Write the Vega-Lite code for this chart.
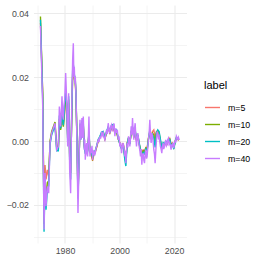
{
"$schema": "https://vega.github.io/schema/vega-lite/v6.json",
"width": 153, "height": 238,
"autosize": "none",
"padding": {"left": 33.5, "top": 5, "right": 76.5, "bottom": 20},
"background": "white",
"config": {"view": {"stroke": null}, "font": "Liberation Sans"},
"datasets": {
"w": [
{"year":1971.0,"m=5":0.0370,"m=10":0.0390,"m=20":0.0380},
{"year":1971.83,"m=5":0.0150,"m=10":0.0145,"m=20":0.0130},
{"year":1972.32,"m=5":-0.0240,"m=10":-0.0260,"m=20":-0.0284},
{"year":1972.68,"m=5":-0.0075,"m=10":-0.0110,"m=20":-0.0120},
{"year":1973.05,"m=5":-0.0120,"m=10":-0.0180,"m=20":-0.0215},
{"year":1973.54,"m=5":-0.0090,"m=10":-0.0130,"m=20":-0.0150},
{"year":1974.02,"m=5":-0.0110,"m=10":-0.0125,"m=20":-0.0140},
{"year":1974.51,"m=5":-0.0005,"m=10":0.0000,"m=20":-0.0010},
{"year":1975.12,"m=5":0.0025,"m=10":0.0030,"m=20":0.0020},
{"year":1975.73,"m=5":0.0040,"m=10":0.0045,"m=20":0.0035},
{"year":1976.34,"m=5":0.0050,"m=10":0.0060,"m=20":0.0045},
{"year":1976.95,"m=5":-0.0015,"m=10":-0.0020,"m=20":-0.0030},
{"year":1977.56,"m=5":-0.0020,"m=10":-0.0025,"m=20":-0.0030},
{"year":1977.93,"m=5":0.0060,"m=10":0.0070,"m=20":0.0080},
{"year":1978.41,"m=5":0.0040,"m=10":0.0035,"m=20":0.0040},
{"year":1978.90,"m=5":0.0075,"m=10":0.0080,"m=20":0.0090},
{"year":1979.39,"m=5":0.0050,"m=10":0.0045,"m=20":0.0050},
{"year":1979.88,"m=5":0.0090,"m=10":0.0100,"m=20":0.0110},
{"year":1980.24,"m=5":0.0130,"m=10":0.0140,"m=20":0.0150},
{"year":1980.61,"m=5":0.0110,"m=10":0.0115,"m=20":0.0120},
{"year":1980.98,"m=5":0.0020,"m=10":0.0010,"m=20":0.0000},
{"year":1981.34,"m=5":0.0120,"m=10":0.0130,"m=20":0.0140},
{"year":1981.71,"m=5":-0.0040,"m=10":-0.0050,"m=20":-0.0060},
{"year":1982.07,"m=5":-0.0090,"m=10":-0.0100,"m=20":-0.0120},
{"year":1982.44,"m=5":0.0060,"m=10":0.0065,"m=20":0.0070},
{"year":1982.80,"m=5":0.0200,"m=10":0.0210,"m=20":0.0220},
{"year":1983.05,"m=5":0.0220,"m=10":0.0230,"m=20":0.0240},
{"year":1983.41,"m=5":0.0195,"m=10":0.0205,"m=20":0.0210},
{"year":1983.78,"m=5":0.0180,"m=10":0.0185,"m=20":0.0190},
{"year":1984.02,"m=5":0.0140,"m=10":0.0145,"m=20":0.0150},
{"year":1984.39,"m=5":0.0010,"m=10":0.0005,"m=20":0.0000},
{"year":1984.76,"m=5":-0.0160,"m=10":-0.0170,"m=20":-0.0180},
{"year":1985.12,"m=5":-0.0060,"m=10":-0.0065,"m=20":-0.0070},
{"year":1985.49,"m=5":0.0045,"m=10":0.0050,"m=20":0.0055},
{"year":1985.85,"m=5":0.0010,"m=10":0.0008,"m=20":0.0005},
{"year":1986.22,"m=5":0.0050,"m=10":0.0055,"m=20":0.0060},
{"year":1986.71,"m=5":0.0045,"m=10":0.0050,"m=20":0.0055},
{"year":1987.07,"m=5":-0.0010,"m=10":-0.0015,"m=20":-0.0020},
{"year":1987.44,"m=5":-0.0030,"m=10":-0.0035,"m=20":-0.0040},
{"year":1987.93,"m=5":-0.0015,"m=10":-0.0012,"m=20":-0.0010},
{"year":1988.29,"m=5":-0.0030,"m=10":-0.0030,"m=20":-0.0035},
{"year":1988.78,"m=5":0.0020,"m=10":0.0025,"m=20":0.0030},
{"year":1989.15,"m=5":-0.0035,"m=10":-0.0032,"m=20":-0.0030},
{"year":1989.63,"m=5":-0.0045,"m=10":-0.0040,"m=20":-0.0035},
{"year":1990.12,"m=5":-0.0062,"m=10":-0.0055,"m=20":-0.0050},
{"year":1990.61,"m=5":-0.0042,"m=10":-0.0038,"m=20":-0.0035},
{"year":1991.10,"m=5":-0.0035,"m=10":-0.0032,"m=20":-0.0030},
{"year":1991.59,"m=5":-0.0020,"m=10":-0.0018,"m=20":-0.0015},
{"year":1992.20,"m=5":0.0000,"m=10":0.0003,"m=20":0.0005},
{"year":1992.80,"m=5":0.0010,"m=10":0.0012,"m=20":0.0015},
{"year":1993.41,"m=5":0.0022,"m=10":0.0025,"m=20":0.0028},
{"year":1994.02,"m=5":0.0025,"m=10":0.0028,"m=20":0.0030},
{"year":1994.63,"m=5":0.0006,"m=10":0.0008,"m=20":0.0010},
{"year":1995.24,"m=5":0.0025,"m=10":0.0028,"m=20":0.0030},
{"year":1995.85,"m=5":0.0040,"m=10":0.0042,"m=20":0.0045},
{"year":1996.46,"m=5":0.0025,"m=10":0.0028,"m=20":0.0030},
{"year":1997.07,"m=5":0.0040,"m=10":0.0045,"m=20":0.0050},
{"year":1997.68,"m=5":0.0042,"m=10":0.0048,"m=20":0.0052},
{"year":1998.29,"m=5":0.0025,"m=10":0.0028,"m=20":0.0030},
{"year":1998.90,"m=5":0.0028,"m=10":0.0030,"m=20":0.0035},
{"year":1999.51,"m=5":0.0006,"m=10":0.0008,"m=20":0.0010},
{"year":2000.12,"m=5":-0.0005,"m=10":-0.0008,"m=20":-0.0010},
{"year":2000.73,"m=5":-0.0020,"m=10":-0.0022,"m=20":-0.0025},
{"year":2001.34,"m=5":-0.0006,"m=10":-0.0008,"m=20":-0.0010},
{"year":2001.95,"m=5":-0.0045,"m=10":-0.0050,"m=20":-0.0060},
{"year":2002.32,"m=5":-0.0055,"m=10":-0.0060,"m=20":-0.0078},
{"year":2002.80,"m=5":-0.0005,"m=10":-0.0008,"m=20":-0.0010},
{"year":2003.29,"m=5":0.0008,"m=10":0.0010,"m=20":0.0012},
{"year":2003.78,"m=5":-0.0005,"m=10":-0.0008,"m=20":-0.0010},
{"year":2004.27,"m=5":0.0025,"m=10":0.0028,"m=20":0.0030},
{"year":2004.76,"m=5":0.0040,"m=10":0.0042,"m=20":0.0045},
{"year":2005.24,"m=5":0.0010,"m=10":0.0012,"m=20":0.0015},
{"year":2005.73,"m=5":0.0030,"m=10":0.0032,"m=20":0.0035},
{"year":2006.22,"m=5":0.0000,"m=10":0.0003,"m=20":0.0005},
{"year":2006.71,"m=5":0.0015,"m=10":0.0018,"m=20":0.0020},
{"year":2007.20,"m=5":-0.0010,"m=10":-0.0008,"m=20":-0.0005},
{"year":2007.68,"m=5":-0.0025,"m=10":-0.0028,"m=20":-0.0030},
{"year":2008.17,"m=5":-0.0035,"m=10":-0.0040,"m=20":-0.0045},
{"year":2008.66,"m=5":-0.0028,"m=10":-0.0030,"m=20":-0.0035},
{"year":2009.15,"m=5":-0.0032,"m=10":-0.0035,"m=20":-0.0040},
{"year":2009.63,"m=5":-0.0020,"m=10":-0.0022,"m=20":-0.0025},
{"year":2010.12,"m=5":-0.0022,"m=10":-0.0025,"m=20":-0.0030},
{"year":2010.61,"m=5":0.0010,"m=10":0.0008,"m=20":0.0005},
{"year":2011.10,"m=5":0.0028,"m=10":0.0030,"m=20":0.0035},
{"year":2011.59,"m=5":0.0015,"m=10":0.0010,"m=20":0.0005},
{"year":2012.07,"m=5":0.0030,"m=10":0.0025,"m=20":0.0020},
{"year":2012.56,"m=5":0.0035,"m=10":0.0020,"m=20":0.0010},
{"year":2013.05,"m=5":0.0010,"m=10":-0.0005,"m=20":-0.0020},
{"year":2013.54,"m=5":0.0030,"m=10":0.0028,"m=20":0.0025},
{"year":2014.02,"m=5":0.0028,"m=10":0.0032,"m=20":0.0035},
{"year":2014.51,"m=5":0.0020,"m=10":0.0025,"m=20":0.0030},
{"year":2015.00,"m=5":-0.0005,"m=10":0.0000,"m=20":0.0005},
{"year":2015.49,"m=5":-0.0025,"m=10":-0.0022,"m=20":-0.0020},
{"year":2015.98,"m=5":-0.0010,"m=10":-0.0008,"m=20":-0.0005},
{"year":2016.46,"m=5":-0.0015,"m=10":-0.0012,"m=20":-0.0010},
{"year":2016.95,"m=5":-0.0005,"m=10":-0.0002,"m=20":0.0000},
{"year":2017.44,"m=5":-0.0010,"m=10":-0.0008,"m=20":-0.0005},
{"year":2017.93,"m=5":0.0000,"m=10":0.0003,"m=20":0.0005},
{"year":2018.41,"m=5":0.0008,"m=10":0.0006,"m=20":0.0005},
{"year":2018.90,"m=5":-0.0010,"m=10":-0.0012,"m=20":-0.0015},
{"year":2019.39,"m=5":-0.0006,"m=10":-0.0008,"m=20":-0.0010},
{"year":2019.88,"m=5":-0.0018,"m=10":-0.0020,"m=20":-0.0025},
{"year":2020.37,"m=5":0.0000,"m=10":-0.0003,"m=20":-0.0005},
{"year":2020.85,"m=5":0.0008,"m=10":0.0010,"m=20":0.0012},
{"year":2021.34,"m=5":0.0005,"m=10":0.0006,"m=20":0.0008},
{"year":2021.83,"m=5":0.0003,"m=10":0.0004,"m=20":0.0005}
],
"p": [
{"year":1971.0,"label":"m=40","value":0.0360},
{"year":1971.83,"label":"m=40","value":0.0108},
{"year":1972.32,"label":"m=40","value":-0.0277},
{"year":1972.68,"label":"m=40","value":-0.0100},
{"year":1973.05,"label":"m=40","value":-0.0204},
{"year":1973.54,"label":"m=40","value":-0.0142},
{"year":1974.02,"label":"m=40","value":-0.0163},
{"year":1974.51,"label":"m=40","value":-0.0006},
{"year":1975.12,"label":"m=40","value":0.0025},
{"year":1975.73,"label":"m=40","value":0.0041},
{"year":1976.34,"label":"m=40","value":0.0056},
{"year":1976.95,"label":"m=40","value":-0.0027},
{"year":1977.56,"label":"m=40","value":-0.0017},
{"year":1977.93,"label":"m=40","value":0.0108},
{"year":1978.41,"label":"m=40","value":0.0046},
{"year":1978.90,"label":"m=40","value":0.0140},
{"year":1979.15,"label":"m=40","value":0.0080},
{"year":1979.39,"label":"m=40","value":0.0067},
{"year":1979.6,"label":"m=40","value":0.0110},
{"year":1979.88,"label":"m=40","value":0.0129},
{"year":1980.24,"label":"m=40","value":0.0213},
{"year":1980.61,"label":"m=40","value":0.0129},
{"year":1980.98,"label":"m=40","value":-0.0017},
{"year":1981.34,"label":"m=40","value":0.0150},
{"year":1981.71,"label":"m=40","value":-0.0090},
{"year":1982.07,"label":"m=40","value":-0.0163},
{"year":1982.44,"label":"m=40","value":0.0088},
{"year":1982.80,"label":"m=40","value":0.0254},
{"year":1983.05,"label":"m=40","value":0.0306},
{"year":1983.25,"label":"m=40","value":0.0200},
{"year":1983.41,"label":"m=40","value":0.0233},
{"year":1983.6,"label":"m=40","value":0.0180},
{"year":1983.78,"label":"m=40","value":0.0202},
{"year":1984.02,"label":"m=40","value":0.0150},
{"year":1984.39,"label":"m=40","value":-0.0006},
{"year":1984.76,"label":"m=40","value":-0.0225},
{"year":1985.12,"label":"m=40","value":-0.0079},
{"year":1985.49,"label":"m=40","value":0.0067},
{"year":1985.85,"label":"m=40","value":0.0004},
{"year":1986.22,"label":"m=40","value":0.0072},
{"year":1986.45,"label":"m=40","value":0.0010},
{"year":1986.71,"label":"m=40","value":0.0077},
{"year":1987.07,"label":"m=40","value":-0.0027},
{"year":1987.25,"label":"m=40","value":0.0005},
{"year":1987.44,"label":"m=40","value":-0.0058},
{"year":1987.7,"label":"m=40","value":-0.0020},
{"year":1987.93,"label":"m=40","value":-0.0006},
{"year":1988.1,"label":"m=40","value":-0.0040},
{"year":1988.29,"label":"m=40","value":-0.0048},
{"year":1988.55,"label":"m=40","value":0.0010},
{"year":1988.78,"label":"m=40","value":0.0077},
{"year":1989.0,"label":"m=40","value":-0.0010},
{"year":1989.15,"label":"m=40","value":-0.0048},
{"year":1989.4,"label":"m=40","value":-0.0020},
{"year":1989.63,"label":"m=40","value":-0.0038},
{"year":1989.9,"label":"m=40","value":-0.0015},
{"year":1990.12,"label":"m=40","value":-0.0058},
{"year":1990.35,"label":"m=40","value":-0.0030},
{"year":1990.61,"label":"m=40","value":-0.0032},
{"year":1990.85,"label":"m=40","value":-0.0045},
{"year":1991.10,"label":"m=40","value":-0.0038},
{"year":1991.35,"label":"m=40","value":-0.0022},
{"year":1991.59,"label":"m=40","value":-0.0017},
{"year":1991.9,"label":"m=40","value":-0.0005},
{"year":1992.20,"label":"m=40","value":0.0004},
{"year":1992.5,"label":"m=40","value":-0.0003},
{"year":1992.80,"label":"m=40","value":0.0015},
{"year":1993.1,"label":"m=40","value":0.0008},
{"year":1993.41,"label":"m=40","value":0.0030},
{"year":1993.7,"label":"m=40","value":0.0018},
{"year":1994.02,"label":"m=40","value":0.0025},
{"year":1994.3,"label":"m=40","value":0.0012},
{"year":1994.63,"label":"m=40","value":0.0004},
{"year":1994.95,"label":"m=40","value":0.0020},
{"year":1995.24,"label":"m=40","value":0.0035},
{"year":1995.55,"label":"m=40","value":0.0022},
{"year":1995.85,"label":"m=40","value":0.0056},
{"year":1996.15,"label":"m=40","value":0.0035},
{"year":1996.46,"label":"m=40","value":0.0025},
{"year":1996.75,"label":"m=40","value":0.0045},
{"year":1997.07,"label":"m=40","value":0.0051},
{"year":1997.4,"label":"m=40","value":0.0030},
{"year":1997.68,"label":"m=40","value":0.0046},
{"year":1998.0,"label":"m=40","value":0.0055},
{"year":1998.29,"label":"m=40","value":0.0015},
{"year":1998.6,"label":"m=40","value":0.0040},
{"year":1998.90,"label":"m=40","value":0.0025},
{"year":1999.2,"label":"m=40","value":0.0035},
{"year":1999.51,"label":"m=40","value":0.0004},
{"year":1999.8,"label":"m=40","value":0.0015},
{"year":2000.12,"label":"m=40","value":-0.0017},
{"year":2000.45,"label":"m=40","value":-0.0005},
{"year":2000.73,"label":"m=40","value":-0.0038},
{"year":2001.05,"label":"m=40","value":-0.0015},
{"year":2001.34,"label":"m=40","value":-0.0006},
{"year":2001.65,"label":"m=40","value":-0.0025},
{"year":2001.95,"label":"m=40","value":-0.0048},
{"year":2002.15,"label":"m=40","value":-0.0030},
{"year":2002.32,"label":"m=40","value":-0.0069},
{"year":2002.55,"label":"m=40","value":-0.0030},
{"year":2002.80,"label":"m=40","value":-0.0006},
{"year":2003.05,"label":"m=40","value":-0.0020},
{"year":2003.29,"label":"m=40","value":0.0015},
{"year":2003.55,"label":"m=40","value":0.0000},
{"year":2003.78,"label":"m=40","value":-0.0017},
{"year":2004.0,"label":"m=40","value":0.0010},
{"year":2004.27,"label":"m=40","value":0.0046},
{"year":2004.5,"label":"m=40","value":0.0020},
{"year":2004.76,"label":"m=40","value":0.0072},
{"year":2005.0,"label":"m=40","value":0.0030},
{"year":2005.24,"label":"m=40","value":0.0004},
{"year":2005.5,"label":"m=40","value":0.0040},
{"year":2005.73,"label":"m=40","value":0.0056},
{"year":2006.0,"label":"m=40","value":0.0010},
{"year":2006.22,"label":"m=40","value":-0.0017},
{"year":2006.45,"label":"m=40","value":0.0010},
{"year":2006.71,"label":"m=40","value":0.0025},
{"year":2006.95,"label":"m=40","value":0.0005},
{"year":2007.20,"label":"m=40","value":-0.0017},
{"year":2007.45,"label":"m=40","value":-0.0030},
{"year":2007.68,"label":"m=40","value":-0.0048},
{"year":2007.9,"label":"m=40","value":-0.0025},
{"year":2008.17,"label":"m=40","value":-0.0074},
{"year":2008.4,"label":"m=40","value":-0.0045},
{"year":2008.66,"label":"m=40","value":-0.0038},
{"year":2008.9,"label":"m=40","value":-0.0060},
{"year":2009.15,"label":"m=40","value":-0.0069},
{"year":2009.4,"label":"m=40","value":-0.0040},
{"year":2009.63,"label":"m=40","value":-0.0027},
{"year":2009.9,"label":"m=40","value":-0.0055},
{"year":2010.12,"label":"m=40","value":-0.0048},
{"year":2010.35,"label":"m=40","value":-0.0020},
{"year":2010.61,"label":"m=40","value":0.0004},
{"year":2010.85,"label":"m=40","value":0.0025},
{"year":2011.10,"label":"m=40","value":0.0067},
{"year":2011.35,"label":"m=40","value":0.0020},
{"year":2011.59,"label":"m=40","value":-0.0006},
{"year":2011.85,"label":"m=40","value":0.0025},
{"year":2012.07,"label":"m=40","value":0.0015},
{"year":2012.3,"label":"m=40","value":0.0000},
{"year":2012.56,"label":"m=40","value":-0.0027},
{"year":2012.8,"label":"m=40","value":-0.0040},
{"year":2013.05,"label":"m=40","value":-0.0069},
{"year":2013.3,"label":"m=40","value":-0.0030},
{"year":2013.54,"label":"m=40","value":0.0004},
{"year":2013.8,"label":"m=40","value":0.0030},
{"year":2014.02,"label":"m=40","value":0.0025},
{"year":2014.25,"label":"m=40","value":0.0010},
{"year":2014.51,"label":"m=40","value":0.0015},
{"year":2014.75,"label":"m=40","value":0.0000},
{"year":2015.00,"label":"m=40","value":-0.0017},
{"year":2015.25,"label":"m=40","value":-0.0025},
{"year":2015.49,"label":"m=40","value":-0.0038},
{"year":2015.75,"label":"m=40","value":-0.0015},
{"year":2015.98,"label":"m=40","value":-0.0006},
{"year":2016.2,"label":"m=40","value":-0.0025},
{"year":2016.46,"label":"m=40","value":-0.0017},
{"year":2016.7,"label":"m=40","value":-0.0005},
{"year":2016.95,"label":"m=40","value":0.0004},
{"year":2017.2,"label":"m=40","value":-0.0015},
{"year":2017.44,"label":"m=40","value":-0.0011},
{"year":2017.7,"label":"m=40","value":0.0005},
{"year":2017.93,"label":"m=40","value":0.0009},
{"year":2018.15,"label":"m=40","value":-0.0010},
{"year":2018.41,"label":"m=40","value":-0.0006},
{"year":2018.65,"label":"m=40","value":-0.0015},
{"year":2018.90,"label":"m=40","value":-0.0027},
{"year":2019.15,"label":"m=40","value":-0.0010},
{"year":2019.39,"label":"m=40","value":-0.0017},
{"year":2019.6,"label":"m=40","value":-0.0005},
{"year":2019.88,"label":"m=40","value":-0.0022},
{"year":2020.1,"label":"m=40","value":-0.0010},
{"year":2020.37,"label":"m=40","value":0.0004},
{"year":2020.6,"label":"m=40","value":-0.0005},
{"year":2020.85,"label":"m=40","value":0.0015},
{"year":2021.1,"label":"m=40","value":0.0010},
{"year":2021.34,"label":"m=40","value":0.0006},
{"year":2021.6,"label":"m=40","value":0.0012},
{"year":2021.83,"label":"m=40","value":0.0004}
]
},
"encoding": {
"x": {"field": "year", "type": "quantitative", "title": null,
  "scale": {"domain": [1968.45, 2024.55], "nice": false, "zero": false},
  "axis": {"values": [1970, 1980, 1990, 2000, 2010, 2020], "format": "d",
    "labelExpr": "datum.value % 20 == 0 ? datum.label : ''",
    "domain": false, "ticks": false, "tickSize": 0, "labelPadding": 3.5,
    "labelFontSize": 8.8, "labelColor": "#4D4D4D", "labelFont": "Liberation Sans",
    "gridColor": "#EBEBEB",
    "gridWidth": {"condition": {"test": "datum.value % 20 == 0", "value": 1.1}, "value": 0.55}}},
"y": {"field": "value", "type": "quantitative", "title": null,
  "scale": {"domain": [-0.0319, 0.0426], "nice": false, "zero": false},
  "axis": {"values": [-0.03, -0.02, -0.01, 0, 0.01, 0.02, 0.03, 0.04], "format": ".2f",
    "labelExpr": "abs(round(datum.value*100)) % 2 == 0 ? replace(datum.label, '-', '\u2212') : ''",
    "domain": false, "ticks": false, "tickSize": 0, "labelPadding": 5,
    "labelFontSize": 8.8, "labelColor": "#4D4D4D", "labelFont": "Liberation Sans",
    "gridColor": "#EBEBEB",
    "gridWidth": {"condition": {"test": "abs(round(datum.value*100)) % 2 == 0", "value": 1.1}, "value": 0.55}}},
"color": {"field": "label", "type": "nominal", "title": "label",
  "scale": {"domain": ["m=5", "m=10", "m=20", "m=40"], "range": ["#F8766D", "#7CAE00", "#00BFC4", "#C77CFF"]},
  "legend": {"orient": "none", "legendX": 170.5, "legendY": 75,
    "titleFontSize": 11, "titleFont": "Liberation Sans", "titleFontWeight": "normal", "titleColor": "#000000", "titlePadding": 8,
    "labelFontSize": 8.8, "labelFont": "Liberation Sans", "labelColor": "#000000", "labelOffset": 7,
    "symbolType": "stroke", "symbolSize": 225, "symbolStrokeWidth": 1.4, "rowPadding": 3}}
},
"layer": [
{"data": {"name": "w"}, "transform": [{"fold": ["m=5"], "as": ["label", "value"]}], "mark": {"type": "line", "strokeWidth": 1.4}},
{"data": {"name": "w"}, "transform": [{"fold": ["m=10"], "as": ["label", "value"]}], "mark": {"type": "line", "strokeWidth": 1.4}},
{"data": {"name": "w"}, "transform": [{"fold": ["m=20"], "as": ["label", "value"]}], "mark": {"type": "line", "strokeWidth": 1.4}},
{"data": {"name": "p"}, "mark": {"type": "line", "strokeWidth": 1.4}}
]
}
